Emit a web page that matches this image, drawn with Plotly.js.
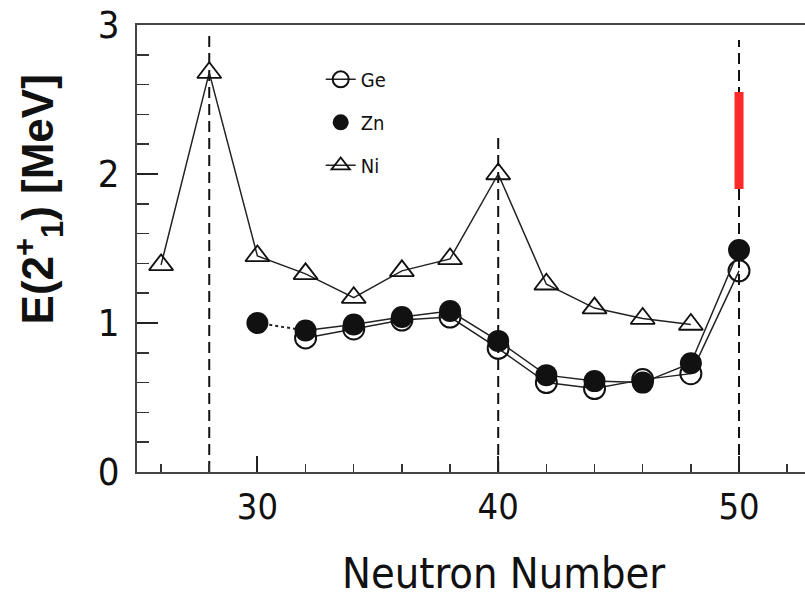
<!DOCTYPE html>
<html>
<head>
<meta charset="utf-8">
<script src="https://cdn.plot.ly/plotly-3.0.1.min.js"></script>
<style>
  html, body { margin: 0; padding: 0; background: #fff; }
  #chart { width: 805px; height: 601px; }
</style>
</head>
<body>
<div id="chart"></div>
<script>
// ---- data ----
const neutronNi = [26, 28, 30, 32, 34, 36, 38, 40, 42, 44, 46, 48];
const energyNi  = [1.39, 2.68, 1.45, 1.33, 1.17, 1.35, 1.43, 2.00, 1.26, 1.10, 1.03, 0.99];

const neutronZn = [30, 32, 34, 36, 38, 40, 42, 44, 46, 48, 50];
const energyZn  = [1.00, 0.95, 0.99, 1.04, 1.08, 0.88, 0.65, 0.61, 0.60, 0.73, 1.49];

const neutronGe = [32, 34, 36, 38, 40, 42, 44, 46, 48, 50];
const energyGe  = [0.90, 0.96, 1.02, 1.04, 0.83, 0.60, 0.56, 0.62, 0.66, 1.35];

// predicted range for N=50 (red bar)
const barN = [50, 50];
const barE = [1.90, 2.55];

// magic-number reference lines
const magicN   = [28, 40, 50];
const magicTop = [2.93, 2.25, 2.90];

const xTickVals = [30, 40, 50];
const yTickVals = [0, 1, 2, 3];

const narrow = '"Liberation Sans Narrow", "DejaVu Sans Condensed", "Arial Narrow", sans-serif';

const traces = [
  {
    name: 'Ni', x: neutronNi, y: energyNi, mode: 'lines+markers',
    line: {color: '#222', width: 1.5},
    marker: {symbol: 'triangle-up-open', size: 21, color: '#111', line: {width: 1.8, color: '#111'}},
    legendgroup: 'ni', legendrank: 3
  },
  {
    name: 'Ge', x: neutronGe, y: energyGe, mode: 'lines+markers',
    line: {color: '#222', width: 1.5},
    marker: {symbol: 'circle-open', size: 21, color: '#111', line: {width: 2, color: '#111'}},
    legendgroup: 'ge', legendrank: 1
  },
  {
    name: 'Zn dotted', x: neutronZn.slice(0, 2), y: energyZn.slice(0, 2), mode: 'lines',
    line: {color: '#222', width: 2, dash: 'dot'}, showlegend: false, hoverinfo: 'skip'
  },
  {
    name: 'Zn line', x: neutronZn.slice(1), y: energyZn.slice(1), mode: 'lines',
    line: {color: '#222', width: 1.5}, showlegend: false, hoverinfo: 'skip'
  },
  {
    name: 'Zn', x: neutronZn, y: energyZn, mode: 'markers',
    marker: {symbol: 'circle', size: 22, color: '#111'},
    legendgroup: 'zn', legendrank: 2
  },
  {
    name: 'prediction', x: barN, y: barE, mode: 'lines',
    line: {color: '#ff2a2a', width: 9}, showlegend: false
  }
];

const shapes = magicN.map((n, i) => ({
  type: 'line', xref: 'x', yref: 'y', layer: 'below',
  x0: n, x1: n, y0: 0, y1: magicTop[i],
  line: {color: '#111', width: 2, dash: '11px,6px'}
}));

const layout = {
  width: 805, height: 601,
  margin: {l: 137, r: 0, t: 25, b: 129},
  paper_bgcolor: '#fff', plot_bgcolor: '#fff',
  showlegend: true,
  legend: {
    x: 0.275, y: 0.922, xanchor: 'left', yanchor: 'top',
    bgcolor: 'rgba(0,0,0,0)', borderwidth: 0,
    font: {family: narrow, size: 20, color: '#111'},
    tracegroupgap: 14, itemwidth: 30
  },
  xaxis: {
    range: [25, 52.74], showgrid: false, zeroline: false,
    showline: true, linecolor: '#444', linewidth: 2, mirror: true,
    tickmode: 'array', tickvals: xTickVals, ticktext: xTickVals.map(String),
    ticks: 'inside', ticklen: 16, tickwidth: 2, tickcolor: '#222',
    minor: {dtick: 2, tick0: 0, ticks: 'inside', ticklen: 8, tickwidth: 1.5, tickcolor: '#333', showgrid: false},
    tickfont: {family: narrow, size: 36, color: '#111'},
    ticklabelstandoff: 2
  },
  yaxis: {
    range: [0, 3], showgrid: false, zeroline: false,
    showline: true, linecolor: '#444', linewidth: 2,
    tickmode: 'array', tickvals: yTickVals, ticktext: yTickVals.map(String),
    ticks: 'inside', ticklen: 21, tickwidth: 2, tickcolor: '#222',
    minor: {dtick: 0.2, tick0: 0, ticks: 'inside', ticklen: 12, tickwidth: 1.5, tickcolor: '#333', showgrid: false},
    tickfont: {family: narrow, size: 38, color: '#111'},
    ticklabelstandoff: 8
  },
  annotations: [
    {
      text: 'Neutron Number', xref: 'paper', yref: 'paper',
      x: 0.549, y: -0.225, xanchor: 'center', yanchor: 'middle', showarrow: false,
      font: {family: narrow, size: 43, color: '#111'}
    },
    {
      text: '<b>E(2<sup>+</sup><sub>1</sub>) [MeV]</b>', xref: 'paper', yref: 'paper',
      x: -0.148, y: 0.61, xanchor: 'center', yanchor: 'middle', showarrow: false,
      textangle: -90,
      font: {family: '"Liberation Sans", Arial, sans-serif', size: 44, color: '#111'}
    }
  ],
  shapes: shapes
};

Plotly.newPlot('chart', traces, layout, {displayModeBar: false, staticPlot: true});
</script>
</body>
</html>
